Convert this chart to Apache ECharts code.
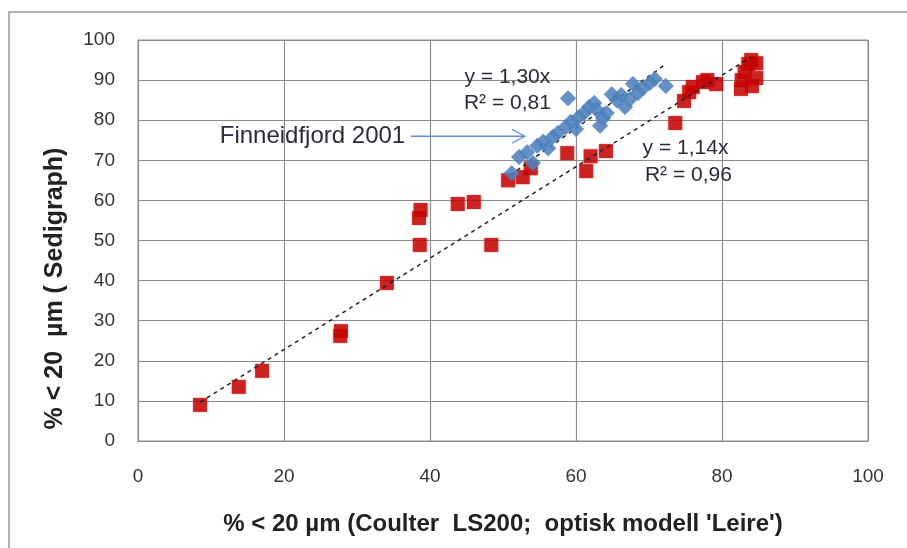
<!DOCTYPE html>
<html>
<head>
<meta charset="utf-8">
<script src="https://cdn.jsdelivr.net/npm/echarts@6/dist/echarts.min.js"></script>
<style>
  html, body { margin: 0; padding: 0; background: #fff; }
  #chart { width: 907px; height: 548px; }
</style>
</head>
<body>
<div id="chart"></div>
<script>
// Grain size < 20 µm: Coulter LS200 (x) against Sedigraph (y)
var xTicks = [0, 20, 40, 60, 80, 100];
var yTicks = [0, 10, 20, 30, 40, 50, 60, 70, 80, 90, 100];

// Reference samples (red squares)
var redX = [8.5, 13.8, 17.0, 27.7, 27.8, 34.1, 38.6, 38.5, 38.7, 43.8, 46.0, 48.4, 50.7, 52.7, 53.8,
            58.8, 61.4, 62.0, 64.1, 73.6, 74.8, 75.5, 76.0, 77.4, 78.0, 79.2, 82.6, 82.7, 83.1, 83.6,
            84.0, 84.7, 84.7, 84.1];
var redY = [9.0, 13.5, 17.5, 26.2, 27.4, 39.4, 48.9, 55.6, 57.6, 59.1, 59.6, 48.9, 65.0, 65.8, 68.0,
            71.8, 67.3, 71.0, 72.3, 79.3, 84.8, 87.0, 88.3, 89.5, 90.0, 89.0, 87.8, 90.0, 92.0, 94.0,
            95.0, 94.2, 90.5, 88.5];

// Finneidfjord 2001 samples (blue diamonds)
var blueX = [51.2, 52.2, 53.3, 54.1, 54.7, 55.5, 56.2, 56.8, 57.5, 58.6, 58.9, 59.3, 60.0, 60.4, 61.1,
             61.8, 62.5, 62.9, 63.3, 63.7, 64.2, 64.9, 65.6, 66.2, 66.7, 67.4, 67.8, 68.5, 69.2, 70.1,
             70.8, 72.3];
var blueY = [66.8, 70.8, 72.0, 69.3, 73.6, 74.6, 73.0, 75.8, 76.8, 78.3, 85.5, 79.6, 77.8, 80.8, 81.8,
             83.3, 84.3, 82.5, 78.6, 80.5, 81.8, 86.5, 85.0, 86.3, 83.3, 85.3, 89.0, 86.8, 88.0, 89.3,
             90.3, 88.5];

// Regression lines through the origin
var redSlope = 1.14, redR2 = '0,96', redRange = [8.5, 84.0];
var blueSlope = 1.30, blueR2 = '0,81', blueRange = [51.0, 72.0];

function pairs(xs, ys) { return xs.map(function (x, i) { return [x, ys[i]]; }); }
function fitLine(slope, range) { return range.map(function (x) { return [x, slope * x]; }); }
function fmt(v) { return v.toFixed(2).replace('.', ','); }

var FONT = '"Liberation Sans", Arial, sans-serif';
var chart = echarts.init(document.getElementById('chart'));

chart.setOption({
  animation: false,
  backgroundColor: '#ffffff',
  grid: { left: 138, right: 39, top: 40, bottom: 107, containLabel: false,
          show: true, borderColor: '#8c8c8c', borderWidth: 1 },
  xAxis: {
    type: 'value', min: xTicks[0], max: xTicks[xTicks.length - 1], interval: 20,
    name: "% < 20 µm (Coulter  LS200;  optisk modell 'Leire')",
    nameLocation: 'middle', nameGap: 71,
    nameTextStyle: { fontFamily: FONT, fontSize: 24, fontWeight: 'bold', color: '#222' },
    axisLine: { lineStyle: { color: '#8c8c8c', width: 1 } },
    axisTick: { show: false },
    axisLabel: { margin: 26, fontFamily: FONT, fontSize: 19, color: '#333' },
    splitLine: { lineStyle: { color: '#8c8c8c', width: 1.2 } }
  },
  yAxis: {
    type: 'value', min: yTicks[0], max: yTicks[yTicks.length - 1], interval: 10,
    name: '% < 20  µm ( Sedigraph)',
    nameLocation: 'middle', nameGap: 70, nameRotate: 90,
    nameTextStyle: { fontFamily: FONT, fontSize: 25, fontWeight: 'bold', color: '#222',
                     padding: [0, 96, 0, 0] },
    axisLine: { show: true, lineStyle: { color: '#8c8c8c', width: 1 } },
    axisTick: { show: false },
    axisLabel: { margin: 23, fontFamily: FONT, fontSize: 19, color: '#333' },
    splitLine: { lineStyle: { color: '#8c8c8c', width: 1.2 } }
  },
  series: [
    {
      type: 'line', data: fitLine(redSlope, redRange), symbol: 'none', z: 3,
      lineStyle: { color: '#222', width: 1.5, type: [4, 4] }
    },
    {
      type: 'line', data: fitLine(blueSlope, blueRange), symbol: 'none', z: 4,
      lineStyle: { color: '#222', width: 1.5, type: [4, 4] }
    },
    {
      name: 'Referanse', type: 'scatter', data: pairs(redX, redY), z: 2,
      symbol: 'rect', symbolSize: 14,
      itemStyle: { color: '#c00000', shadowBlur: 2, shadowColor: 'rgba(230,40,40,0.5)' }
    },
    {
      name: 'Finneidfjord 2001', type: 'scatter', data: pairs(blueX, blueY), z: 5,
      symbol: 'diamond', symbolSize: [16, 16],
      itemStyle: { color: '#4f81bd', shadowBlur: 1, shadowColor: 'rgba(79,129,189,0.5)' }
    }
  ]
});

// Equation labels, series caption and pointer arrow placed in data space
function px(pt) { return chart.convertToPixel({ gridIndex: 0 }, pt); }
var eqStyle = { fontFamily: FONT, fontSize: 21, fill: '#2a2a3a' };
var b1 = px([50.6, 90.8]), b2 = px([50.6, 84.3]);
var r1 = px([75.0, 72.9]), r2 = px([75.4, 66.4]);
var cap = px([36.6, 76.0]), a0 = px([37.4, 76.0]), a1 = px([53.0, 76.0]);

chart.setOption({
  graphic: [
    { type: 'rect', silent: true, z: -1,
      shape: { x: 9, y: 12, width: 1000, height: 1000 },
      style: { fill: 'none', stroke: '#9a9a9a', lineWidth: 1.5 } },
    { type: 'text', x: b1[0], y: b1[1], style: Object.assign({ text: 'y = ' + fmt(blueSlope) + 'x', align: 'center', verticalAlign: 'middle' }, eqStyle) },
    { type: 'text', x: b2[0], y: b2[1], style: Object.assign({ text: 'R² = ' + blueR2, align: 'center', verticalAlign: 'middle' }, eqStyle) },
    { type: 'text', x: r1[0], y: r1[1], style: Object.assign({ text: 'y = ' + fmt(redSlope) + 'x', align: 'center', verticalAlign: 'middle' }, eqStyle) },
    { type: 'text', x: r2[0], y: r2[1], style: Object.assign({ text: 'R² = ' + redR2, align: 'center', verticalAlign: 'middle' }, eqStyle) },
    { type: 'text', x: cap[0], y: cap[1], style: Object.assign({ text: 'Finneidfjord 2001', align: 'right', verticalAlign: 'middle' }, eqStyle, { fontSize: 24 }) },
    { type: 'line', shape: { x1: a0[0], y1: a0[1], x2: a1[0], y2: a1[1] },
      style: { stroke: '#5b8fd0', lineWidth: 1.3 } },
    { type: 'polyline', shape: { points: [[a1[0] - 13, a1[1] - 7], [a1[0], a1[1]], [a1[0] - 13, a1[1] + 7]] },
      style: { stroke: '#5b8fd0', lineWidth: 1.3, fill: 'none' } }
  ]
});
</script>
</body>
</html>
